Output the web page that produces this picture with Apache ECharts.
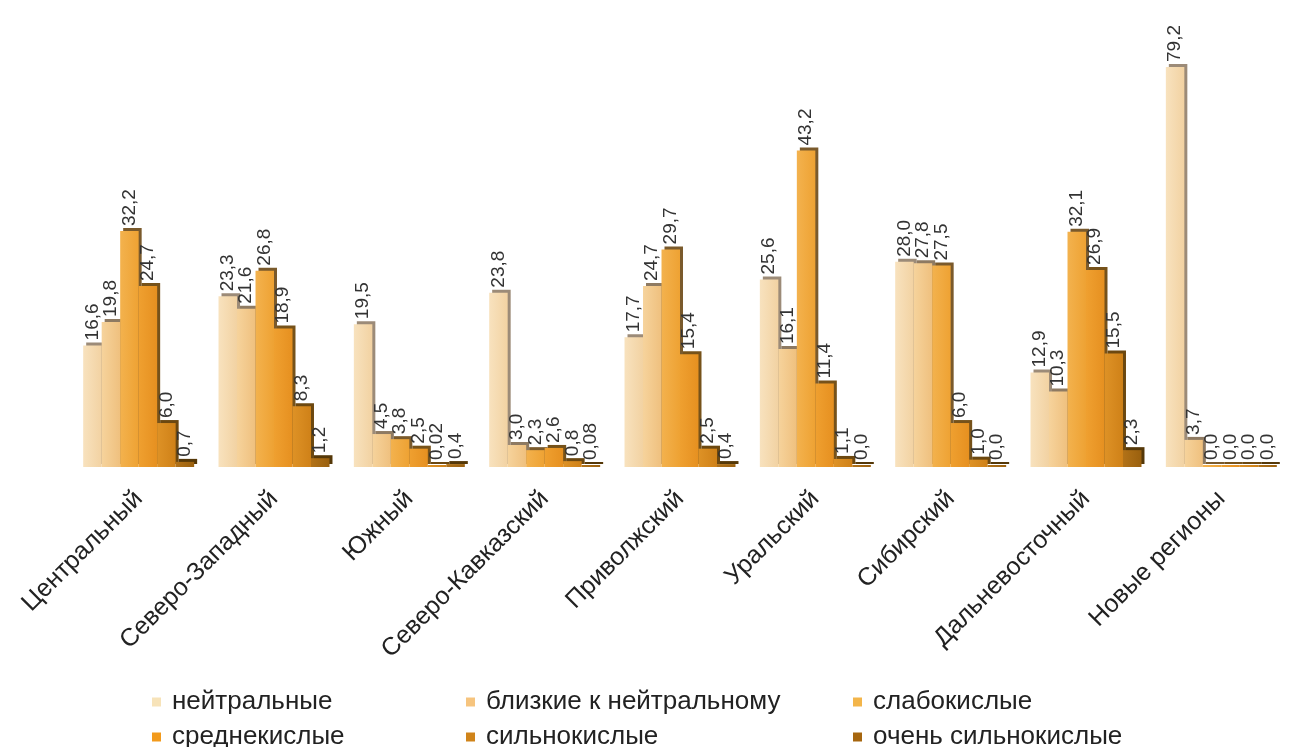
<!DOCTYPE html>
<html>
<head>
<meta charset="utf-8">
<script src="https://cdn.jsdelivr.net/npm/echarts@6/dist/echarts.min.js"></script>
<style>
html,body{margin:0;padding:0;background:#fff;}
#chart{width:1289px;height:747px;}
</style>
</head>
<body>
<div id="chart"></div>
<script>
const categories = ['Центральный','Северо-Западный','Южный','Северо-Кавказский','Приволжский','Уральский','Сибирский','Дальневосточный','Новые регионы'];
const seriesNames = ['нейтральные','близкие к нейтральному','слабокислые','среднекислые','сильнокислые','очень сильнокислые'];
const neutral        = [16.6, 23.3, 19.5, 23.8, 17.7, 25.6, 28.0, 12.9, 79.2];
const nearNeutral    = [19.8, 21.6, 4.5, 3.0, 24.7, 16.1, 27.8, 10.3, 3.7];
const weakAcid       = [32.2, 26.8, 3.8, 2.3, 29.7, 43.2, 27.5, 32.1, 0.0];
const mediumAcid     = [24.7, 18.9, 2.5, 2.6, 15.4, 11.4, 6.0, 26.9, 0.0];
const strongAcid     = [6.0, 8.3, 0.02, 0.8, 2.5, 1.1, 1.0, 15.5, 0.0];
const veryStrongAcid = [0.7, 1.2, 0.4, 0.08, 0.4, 0.0, 0.0, 2.3, 0.0];

const seriesData = [neutral, nearNeutral, weakAcid, mediumAcid, strongAcid, veryStrongAcid];
const fills = [
  ['#F8E2BE','#F2D2A2'],
  ['#F6D39C','#EFC07E'],
  ['#F3B24E','#EEA233'],
  ['#EFA030','#E69020'],
  ['#DE9226','#CF8118'],
  ['#B27218','#9A600E']
];
const edges = ['#9C8B78','#8E7A62','#7A5A2C','#76521A','#6C4810','#553808'];
const legendColors = ['#F7E3B9','#F6C47E','#F3B54A','#F29A1C','#D0841A','#A6660F'];

function fmt(v){
  if (v > 0 && v < 0.1) return v.toFixed(2).replace('.', ',');
  return v.toFixed(1).replace('.', ',');
}

const chart = echarts.init(document.getElementById('chart'), null, {renderer:'canvas'});
const series = seriesData.map((d, i) => ({
  name: seriesNames[i],
  type: 'bar',
  data: d,
  barGap: '0%',
  barCategoryGap: '18%',
  barMinHeight: 2,
  clip: true,
  itemStyle: {
    color: new echarts.graphic.LinearGradient(0,0,1,0,[{offset:0,color:fills[i][0]},{offset:1,color:fills[i][1]}]),
    shadowColor: edges[i],
    shadowBlur: 0,
    shadowOffsetX: 3,
    shadowOffsetY: -3
  },
  label: {
    show: true,
    position: 'top',
    rotate: 90,
    align: 'left',
    verticalAlign: 'middle',
    distance: 5,
    fontSize: 19,
    fontFamily: 'Liberation Sans, Arial, sans-serif',
    color: '#333',
    formatter: p => fmt(p.value)
  }
}));

// legend layout: 3 columns x 2 rows
const legendOrder = [0, 1, 2, 3, 4, 5];
const legendLefts = [152, 466, 853];
const legendTops = [689, 724];
const legend = legendOrder.map(k => ({
  orient: 'horizontal',
  left: legendLefts[k % 3],
  top: legendTops[Math.floor(k / 3)],
  padding: 0,
  itemWidth: 9,
  itemHeight: 9,
  icon: 'rect',
  textStyle: {fontSize: 26, fontFamily: 'Liberation Sans, Arial, sans-serif', color: '#222', padding:[0,0,0,6]},
  data: [{name: seriesNames[k], itemStyle: {color: legendColors[k]}}]
}));

chart.setOption({
  animation: false,
  backgroundColor: '#ffffff',
  grid: {left: 71, right: -10, top: 67, bottom: 280, containLabel: false},
  legend: legend,
  xAxis: {
    type: 'category',
    data: categories,
    axisLine: {show: false},
    axisTick: {show: false},
    axisLabel: {
      rotate: 45,
      interval: 0,
      margin: 28,
      fontSize: 25,
      fontFamily: 'Liberation Sans, Arial, sans-serif',
      color: '#222'
    }
  },
  yAxis: {
    type: 'value',
    min: 0,
    max: 54.6,
    show: false,
    splitLine: {show: false}
  },
  series: series
});
</script>
</body>
</html>
